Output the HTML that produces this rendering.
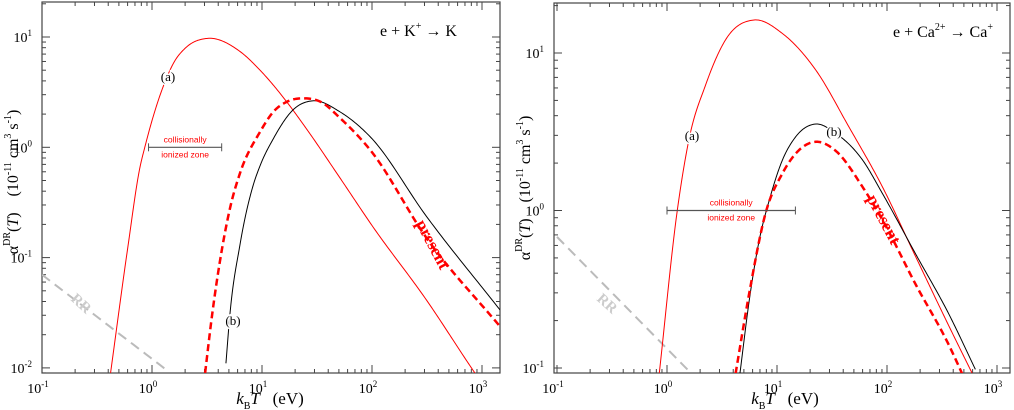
<!DOCTYPE html>
<html><head><meta charset="utf-8"><style>
html,body{margin:0;padding:0;background:#fff;width:1014px;height:410px;overflow:hidden}
svg{display:block}
text{font-family:"Liberation Serif",serif;fill:#000}
</style></head><body>
<svg id="svg" width="1014" height="410" viewBox="0 0 1014 410" xmlns="http://www.w3.org/2000/svg"></svg>
<script>
// ---- Left panel data (K+) ----
const kA_x=[0.42,0.6,0.78,0.86,1.27,1.6,2.0,3.14,6.3,9.6,16.7,25.5,51,102,314,830,1100];
const kA_y=[0.009,0.12,0.67,1.0,3.6,6.0,7.9,9.7,7.4,5.0,2.6,1.46,0.53,0.19,0.041,0.0095,0.0063];
const kB_x=[4.7,5.1,6.3,8.3,9.6,12.7,19.3,29.3,51,96,314,1460];
const kB_y=[0.011,0.03,0.13,0.45,0.68,1.2,2.2,2.64,2.1,1.25,0.235,0.0335];
const kP_x=[3.04,3.5,4.45,5.2,6.3,9.6,12.7,17,23.8,35,51,96,314,1460];
const kP_y=[0.009,0.029,0.14,0.3,0.58,1.38,2.1,2.6,2.78,2.55,1.85,0.95,0.15,0.0237];
const kRR_x=[0.1,1.37];
const kRR_y=[0.07,0.0095];
const kZone=[0.93,4.3,1.0];
// ---- Right panel data (Ca2+) ----
const cA_x=[0.85,1.24,1.58,2.25,3.4,6.2,11.2,22.5,45,91,182,365,597];
const cA_y=[0.092,1.0,2.8,6.3,12.1,16.2,13.3,7.8,3.4,1.41,0.51,0.185,0.092];
const cB_x=[4.6,5.6,6.9,8.5,11.2,14.8,22.5,34,60,91,182,365,636];
const cB_y=[0.092,0.27,0.65,1.16,2.09,2.94,3.54,3.1,2.09,1.28,0.53,0.22,0.098];
const cP_x=[4.2,5.6,7.9,11.2,14.8,22.5,34,60,91,182,365,520];
const cP_y=[0.092,0.30,0.97,1.72,2.3,2.73,2.4,1.41,0.87,0.34,0.14,0.082];
const cRR_x=[0.1,1.6];
const cRR_y=[0.68,0.095];
const cZone=[1.0,14.7,1.0];
const xTicks=[-1,0,1,2,3];

const NS="http://www.w3.org/2000/svg";
const svg=document.getElementById('svg');
function el(t,a,p){const e=document.createElementNS(NS,t);for(const k in a)e.setAttribute(k,a[k]);(p||svg).appendChild(e);return e;}

function spline(xs,ys){
  const n=xs.length,d=[],m=[];
  for(let i=0;i<n-1;i++)d.push((ys[i+1]-ys[i])/(xs[i+1]-xs[i]));
  m[0]=d[0];m[n-1]=d[n-2];
  for(let i=1;i<n-1;i++){const h0=xs[i]-xs[i-1],h1=xs[i+1]-xs[i];m[i]=(d[i-1]*h1+d[i]*h0)/(h0+h1);}
  const out=[];
  for(let i=0;i<n-1;i++){const h=xs[i+1]-xs[i];for(let k=0;k<30;k++){const t=k/30,t2=t*t,t3=t2*t;
    out.push([xs[i]+t*h,(2*t3-3*t2+1)*ys[i]+(t3-2*t2+t)*h*m[i]+(-2*t3+3*t2)*ys[i+1]+(t3-t2)*h*m[i+1]]);}}
  out.push([xs[n-1],ys[n-1]]);return out;
}

function panel(cfg){
  const g=el('g',{});
  
  
  const L=cfg.L,R=cfg.R,T=cfg.T,B=cfg.B;
  const X=v=>cfg.x0px+(Math.log10(v)+1)*cfg.xdec;
  const Y=v=>cfg.y0px-(Math.log10(v)-cfg.y0log)*cfg.ydec;
  const cid='clip'+cfg.name;
  const defs=el('defs',{},g);const cp=el('clipPath',{id:cid},defs);el('rect',{x:L,y:T,width:R-L,height:B-T},cp);
  const fr=el('rect',{x:L,y:T,width:R-L,height:B-T,fill:'none',stroke:'#444','stroke-width':1.2},g);
  
  for(let d=-1;d<=3;d++){for(let m=1;m<10;m++){const v=m*Math.pow(10,d);const x=X(v);if(x<L-0.5||x>R)continue;const len=m==1?8:4;
    el('line',{x1:x,y1:B,x2:x,y2:B-len,stroke:'#444','stroke-width':1},g);el('line',{x1:x,y1:T,x2:x,y2:T+len,stroke:'#444','stroke-width':1},g);}}
  xTicks.forEach(d=>{const x=X(Math.pow(10,d));const t=el('text',{x:x-4,y:B+20,'font-size':14,'text-anchor':'middle'},g);t.textContent='10';const s=el('tspan',{dy:-6,'font-size':9},t);s.textContent=String(d);
    });
  for(let d=-3;d<=1;d++){for(let m=1;m<10;m++){const v=m*Math.pow(10,d);const y=Y(v);if(y<T||y>B+0.5)continue;const len=m==1?8:4;
    el('line',{x1:L,y1:y,x2:L+len,y2:y,stroke:'#444','stroke-width':1},g);el('line',{x1:R,y1:y,x2:R-len,y2:y,stroke:'#444','stroke-width':1},g);}}
  cfg.yTicks.forEach(d=>{const y=Y(Math.pow(10,d));const t=el('text',{x:L-10,y:y+5,'font-size':14,'text-anchor':'end'},g);t.textContent='10';const s=el('tspan',{dy:-6,'font-size':9},t);s.textContent=String(d);
    });
  const cg=el('g',{'clip-path':`url(#${cid})`},g);
  function curve(xs,ys,attrs,name){
    const pts=spline(xs.map(Math.log10),ys.map(Math.log10));
    const d=pts.map((p,i)=>(i?'L':'M')+X(Math.pow(10,p[0])).toFixed(2)+','+Y(Math.pow(10,p[1])).toFixed(2)).join('');
    const e=el('path',Object.assign({d:d,fill:'none'},attrs),cg);
    }
  curve(cfg.rr[0],cfg.rr[1],{stroke:'#bbb','stroke-width':2,'stroke-dasharray':'10,6'},'rr-line');
  curve(cfg.a[0],cfg.a[1],{stroke:'#f00','stroke-width':1},'curve-a');
  curve(cfg.b[0],cfg.b[1],{stroke:'#000','stroke-width':1},'curve-b');
  curve(cfg.p[0],cfg.p[1],{stroke:'#f00','stroke-width':2.5,'stroke-dasharray':'7,4'},'curve-present');
  const z=cfg.zone;const zy=Y(z[2]);
  const zb=el('g',{},g);
  el('line',{x1:X(z[0]),y1:zy,x2:X(z[1]),y2:zy,stroke:'#555','stroke-width':1.2},zb);
  el('line',{x1:X(z[0]),y1:zy-4,x2:X(z[0]),y2:zy+4,stroke:'#555'},zb);el('line',{x1:X(z[1]),y1:zy-4,x2:X(z[1]),y2:zy+4,stroke:'#555'},zb);
  const zm=(X(z[0])+X(z[1]))/2;
  [['collisionally',-5],['ionized zone',10]].forEach(([s,o])=>{const t=el('text',{x:zm,y:zy+o,'font-size':8.5,'text-anchor':'middle',style:'font-family:"Liberation Sans",sans-serif;fill:#f00'},zb);t.textContent=s;});
  function lab(txt,x,y,name,extra){const t=el('text',Object.assign({x:x,y:y,'font-size':13,'text-anchor':'middle'},extra||{}),g);t.textContent=txt;return t;}
  const la=lab('(a)',cfg.aLab[0],cfg.aLab[1],'label-a');la.setAttribute('stroke','#fff');la.setAttribute('paint-order','stroke');la.setAttribute('stroke-width','3');
  const lb=lab('(b)',cfg.bLab[0],cfg.bLab[1],'label-b');lb.setAttribute('stroke','#fff');lb.setAttribute('paint-order','stroke');lb.setAttribute('stroke-width','3');
  lab('present',0,0,'present-label',{'font-size':17,'font-weight':'bold',style:'fill:#f00',transform:`translate(${cfg.pres[0]},${cfg.pres[1]}) rotate(${cfg.pres[2]})`});
  lab('RR',0,0,'rr-label',{'font-size':15,'font-weight':'bold',style:'fill:#ccc',transform:`translate(${cfg.rrLab[0]},${cfg.rrLab[1]}) rotate(42)`});
  const re=el('text',{x:cfg.reac[0],y:cfg.reac[1],'font-size':16},g);
  cfg.reacParts.forEach(([s,sup])=>{const sp=el('tspan',sup?{dy:-7,'font-size':10}:{dy:sup===false?7:0},re);sp.textContent=s;});
  const xt=el('text',{x:cfg.xt,y:404,'font-size':17,'text-anchor':'middle'},g);
  xt.innerHTML='<tspan font-style="italic">k</tspan><tspan font-size="10" dy="5">B</tspan><tspan font-style="italic" dy="-5">T</tspan>&#160;&#160;&#160;(eV)';
  const yt=el('text',{'font-size':16,'text-anchor':'middle',transform:`translate(${cfg.yt[0]},${cfg.yt[1]}) rotate(-90)`},g);
  yt.innerHTML='α<tspan font-size="10" dy="-8">DR</tspan><tspan dy="8">(</tspan><tspan font-style="italic">T</tspan>)&#160;&#160;&#160;&#160;(10<tspan font-size="10" dy="-7">-11</tspan><tspan dy="7">&#160;cm</tspan><tspan font-size="10" dy="-7">3</tspan><tspan dy="7">&#160;s</tspan><tspan font-size="10" dy="-7">-1</tspan><tspan dy="7">)</tspan>';
}
panel({name:'panel-potassium',L:42,R:500,T:2,B:373,x0px:42,xdec:110,y0px:37,y0log:1,ydec:110.3,yTicks:[-2,-1,0,1],
  a:[kA_x,kA_y],b:[kB_x,kB_y],p:[kP_x,kP_y],rr:[kRR_x,kRR_y],zone:kZone,aLab:[168,81],bLab:[233,325],pres:[428,247,62],rrLab:[78,307],
  reac:[380,36],reacParts:[['e + K',0],['+',true],[' → K',false]],xt:270,yt:[18,182]});
panel({name:'panel-calcium',L:554,R:1010,T:3,B:373,x0px:557,xdec:110,y0px:53,y0log:1,ydec:157.5,yTicks:[-1,0,1],
  a:[cA_x,cA_y],b:[cB_x,cB_y],p:[cP_x,cP_y],rr:[cRR_x,cRR_y],zone:cZone,aLab:[692,140],bLab:[834,136],pres:[879,222,62],rrLab:[604,307],
  reac:[893,37],reacParts:[['e + Ca',0],['2+',true],[' → Ca',false],['+',true]],xt:785,yt:[530,188]});
</script>
</body></html>
